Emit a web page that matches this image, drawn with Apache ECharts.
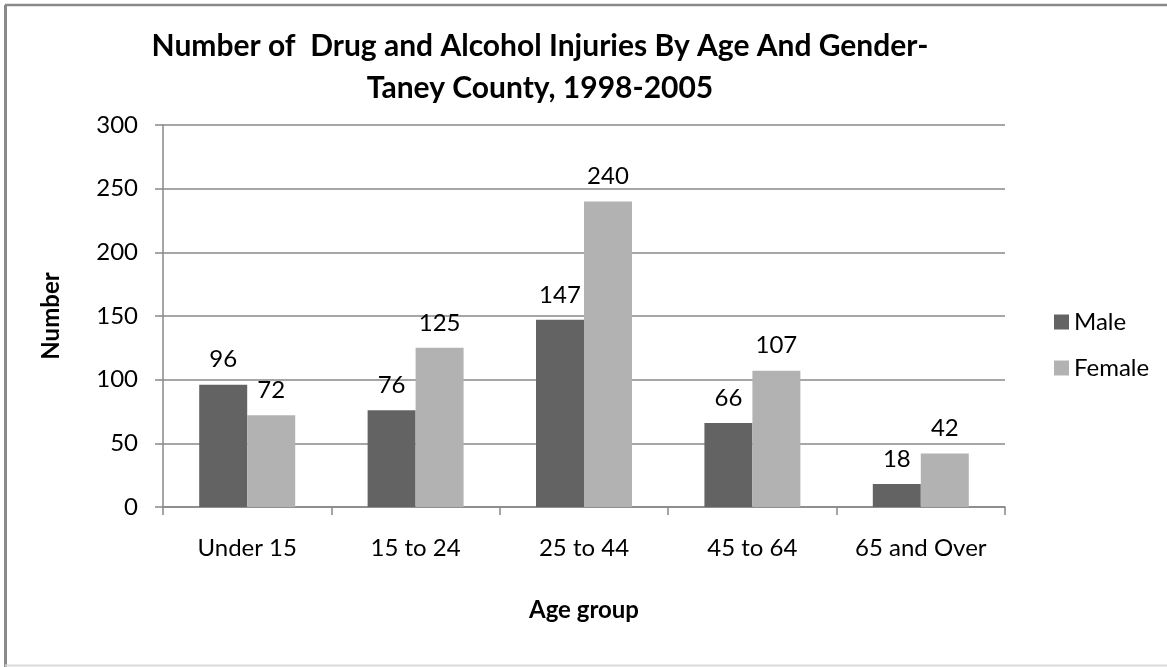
<!DOCTYPE html>
<html><head><meta charset="utf-8">
<script src="https://cdn.jsdelivr.net/npm/echarts@6/dist/echarts.min.js"></script>
<style>html,body{margin:0;padding:0;background:#fff}#c{width:1167px;height:667px}</style>
</head><body><div id="c"></div>
<script>
const categories = ['Under 15', '15 to 24', '25 to 44', '45 to 64', '65 and Over'];
const maleValues = [96, 76, 147, 66, 18];
const femaleValues = [72, 125, 240, 107, 42];
const yTicks = [0, 50, 100, 150, 200, 250, 300];

const FONT = 'Lato, "Open Sans", sans-serif';
const chart = echarts.init(document.getElementById('c'));
chart.setOption({
  animation: false,
  backgroundColor: '#fff',
  textStyle: { fontFamily: FONT },
  graphic: [
    { type: 'line', shape: { x1: 5, y1: 5, x2: 1167, y2: 5 }, style: { stroke: '#8a8a8a', lineWidth: 2.5 }, silent: true },
    { type: 'line', shape: { x1: 5.5, y1: 5, x2: 5.5, y2: 667 }, style: { stroke: '#8a8a8a', lineWidth: 3 }, silent: true },
    { type: 'line', shape: { x1: 5, y1: 665.5, x2: 1167, y2: 665.5 }, style: { stroke: '#d9d9d9', lineWidth: 2 }, silent: true }
  ],
  title: {
    text: 'Number of  Drug and Alcohol Injuries By Age And Gender-\nTaney County, 1998-2005',
    left: 535, top: 20, textAlign: 'center',
    textStyle: { fontFamily: FONT, fontWeight: 'bold', fontSize: 30, lineHeight: 42, color: '#000' }
  },
  legend: {
    orient: 'vertical', left: 1049, top: 305, itemGap: 22,
    itemWidth: 15, itemHeight: 15, icon: 'rect',
    textStyle: { fontFamily: FONT, fontSize: 24, color: '#000' },
    data: ['Male', 'Female']
  },
  grid: { left: 163, right: 162, top: 125, bottom: 160, containLabel: false },
  xAxis: {
    type: 'category', data: categories,
    name: 'Age group', nameLocation: 'middle', nameGap: 91,
    nameTextStyle: { fontFamily: FONT, fontWeight: 'bold', fontSize: 24, color: '#000' },
    axisLine: { lineStyle: { color: '#888', width: 1.5 } },
    axisTick: { show: true, length: 8, alignWithLabel: false, lineStyle: { color: '#888', width: 1.5 } },
    axisLabel: { fontFamily: FONT, fontSize: 24, color: '#000', margin: 29, interval: 0 }
  },
  yAxis: {
    type: 'value', min: yTicks[0], max: yTicks[yTicks.length - 1], interval: 50,
    name: 'Number', nameLocation: 'middle', nameGap: 100, nameRotate: 90,
    nameTextStyle: { fontFamily: FONT, fontWeight: 'bold', fontSize: 24, color: '#000' },
    axisLine: { show: true, lineStyle: { color: '#888', width: 1.5 } },
    axisTick: { show: true, length: 8, lineStyle: { color: '#888', width: 1.5 } },
    axisLabel: { fontFamily: FONT, fontSize: 24, color: '#000', margin: 25 },
    splitLine: { show: true, lineStyle: { color: '#888', width: 1.5 } }
  },
  series: [
    {
      name: 'Male', type: 'bar', data: maleValues, barGap: '0%', barCategoryGap: '43%',
      itemStyle: { color: '#636363' },
      label: { show: true, position: 'top', distance: 13, fontFamily: FONT, fontSize: 24, color: '#000' }
    },
    {
      name: 'Female', type: 'bar', data: femaleValues, barGap: '0%', barCategoryGap: '43%',
      itemStyle: { color: '#b2b2b2' },
      label: { show: true, position: 'top', distance: 13, fontFamily: FONT, fontSize: 24, color: '#000' }
    }
  ]
});
</script></body></html>
